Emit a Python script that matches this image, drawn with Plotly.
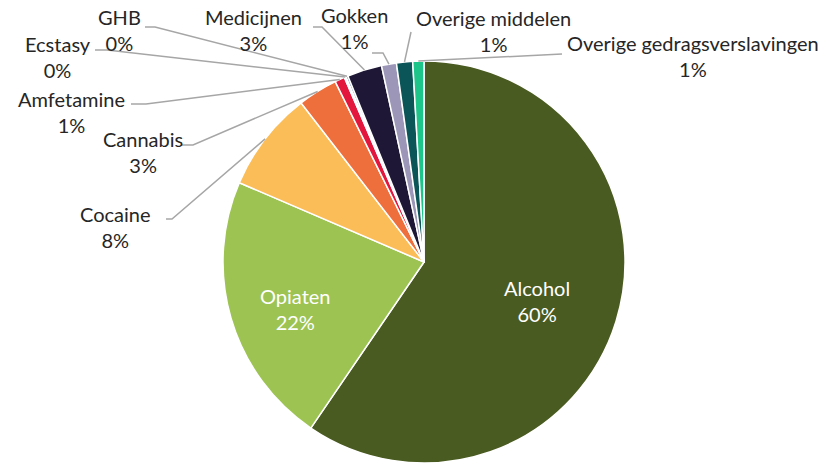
import math
import plotly.graph_objects as go

# ---- data ----
labels = ["Alcohol", "Opiaten", "Cocaine", "Cannabis", "Amfetamine", "Ecstasy",
          "GHB", "Medicijnen", "Gokken", "Overige middelen", "Overige gedragsverslavingen"]
values = [59.7, 22.0, 8.1, 3.2, 0.8, 0.15, 0.15, 2.8, 1.2, 1.3, 0.9]

# ---- styles ----
colors = ["#4A5B21", "#9DC353", "#FBBD58", "#EE6E3C", "#E3173E", "#FFFFFF",
          "#2F5597", "#1F1736", "#9C97B8", "#0B5558", "#1DC58A"]

W, H = 828, 464
CX, CY, R = 424, 262, 201
FONT = "Lato"
FS = 20

# label layout (pixel positions): text centre, leader start, elbow x
inside_pos = {"Alcohol": (537, 301), "Opiaten": (295, 309)}
outside_pos = {
    "Cocaine": ((115, 227), (166, 219), 172),
    "Cannabis": ((143, 152), (181, 145), 193),
    "Amfetamine": ((71, 112), (131, 104), 146),
    "Ecstasy": ((58, 57), (95, 50), 107),
    "GHB": ((119, 30), (145, 27), 155),
    "Medicijnen": ((253, 30), (313, 27), 322),
    "Gokken": ((354, 28), (372, 53), 383),
    "Overige middelen": ((493, 31), (411, 32), 411),
    "Overige gedragsverslavingen": ((693, 56), (562, 54), 562),
}


def px(x):
    return x / W


def py(y):
    return 1 - y / H


fig = go.Figure(go.Pie(
    labels=labels, values=values, sort=False, direction="clockwise", rotation=0,
    marker=dict(colors=colors, line=dict(color="white", width=1.5)),
    textinfo="none", hoverinfo="label+percent", showlegend=False,
    domain=dict(x=[px(CX - R), px(CX + R)], y=[py(CY + R), py(CY - R)]),
))

total = sum(values)
annotations = []
shapes = []
cum = 0.0
for lab, v in zip(labels, values):
    mid = (cum + v / 2) / total * 2 * math.pi
    cum += v
    pct = f"{round(v / total * 100)}%"
    if lab in inside_pos:
        tx, ty = inside_pos[lab]
        annotations.append(dict(x=px(tx), y=py(ty), xref="paper", yref="paper",
                                text=f"{lab}<br>{pct}", showarrow=False,
                                font=dict(family=FONT, size=FS, color="white"),
                                xanchor="center", yanchor="middle"))
    else:
        (tx, ty), (sx, sy), ex = outside_pos[lab]
        ox = CX + R * math.sin(mid)
        oy = CY - R * math.cos(mid)
        annotations.append(dict(x=px(tx), y=py(ty), xref="paper", yref="paper",
                                text=f"{lab}<br>{pct}", showarrow=False,
                                font=dict(family=FONT, size=FS, color="#262626"),
                                xanchor="center", yanchor="middle"))
        path = f"M {px(sx)},{py(sy)} L {px(ex)},{py(sy)} L {px(ox)},{py(oy)}"
        shapes.append(dict(type="path", xref="paper", yref="paper", path=path,
                           line=dict(color="#A6A6A6", width=1.5)))

fig.update_layout(
    width=W, height=H, margin=dict(l=0, r=0, t=0, b=0),
    paper_bgcolor="white", plot_bgcolor="white",
    annotations=annotations, shapes=shapes,
    font=dict(family=FONT),
)

fig.write_html("out.html", config={"displayModeBar": False},
               post_script="document.body.style.margin='0';document.body.style.overflow='hidden';")
